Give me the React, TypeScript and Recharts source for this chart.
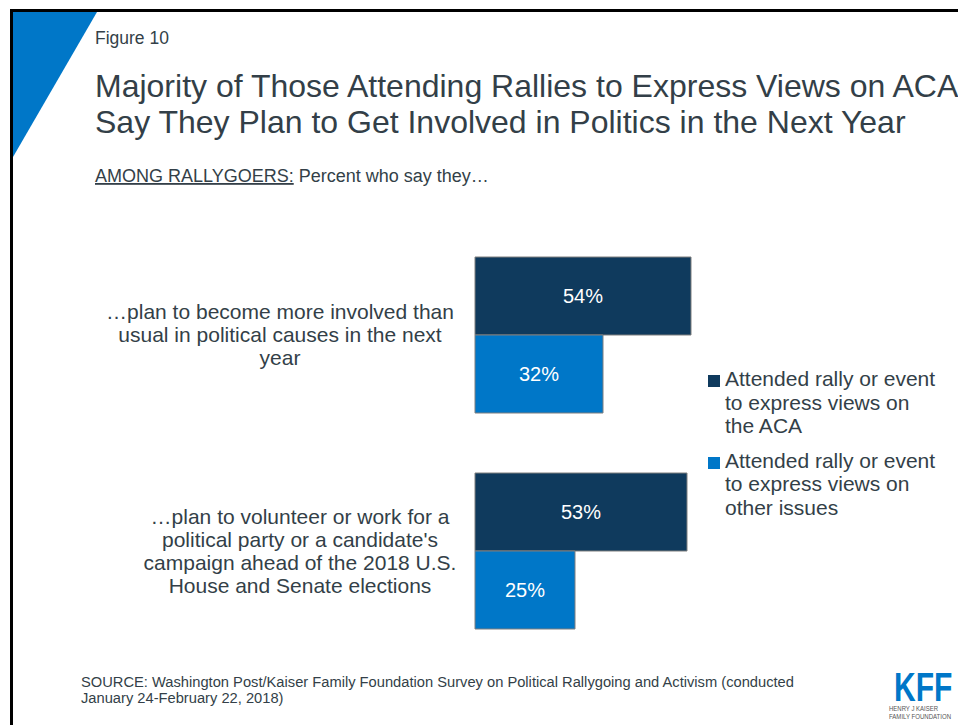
import { Bar, BarChart, LabelList, Legend, XAxis, YAxis } from 'recharts'

const categories = ['More involved in political causes', 'Volunteer for party or campaign']
const categoryLines = [
  ['…plan to become more involved than', 'usual in political causes in the next', 'year'],
  ['…plan to volunteer or work for a', "political party or a candidate's", 'campaign ahead of the 2018 U.S.', 'House and Senate elections'],
]
const acaValues = [54, 53]
const otherIssuesValues = [32, 25]
const seriesNames = [
  'Attended rally or event to express views on the ACA',
  'Attended rally or event to express views on other issues',
]
const legendLines: Record<string, string[]> = {
  aca: ['Attended rally or event', 'to express views on', 'the ACA'],
  other: ['Attended rally or event', 'to express views on', 'other issues'],
}

const FONT = '"Liberation Sans", Arial, sans-serif'
const TEXT = '#333f48'
const DARK = '#0f3a5d'
const BLUE = '#0077c8'

const data = categories.map((category, i) => ({
  category,
  aca: acaValues[i],
  other: otherIssuesValues[i],
}))

// label centres sit a little differently per category in the original slide
const labelCentreOffset = [195, 175]

function CategoryTick(props: any) {
  const { x, y, payload, index } = props
  const lines = categoryLines[index] ?? [payload.value]
  const cx = x - (labelCentreOffset[index] ?? 185)
  return (
    <g>
      {lines.map((line: string, i: number) => (
        <text
          key={i}
          x={cx}
          y={y + 7 + (i - (lines.length - 1) / 2) * 23}
          textAnchor="middle"
          fill={TEXT}
          fontSize={21}
          fontFamily={FONT}
        >
          {line}
        </text>
      ))}
    </g>
  )
}

function LegendContent(props: any) {
  const { payload = [] } = props
  return (
    <div style={{ fontFamily: FONT, fontSize: 21, lineHeight: '23.5px', color: TEXT }}>
      {payload.map((entry: any, i: number) => (
        <div key={i} style={{ position: 'relative', paddingLeft: 17, marginBottom: 11 }}>
          <span
            style={{
              position: 'absolute',
              left: 0,
              top: 8,
              width: 12,
              height: 12,
              background: entry.color,
            }}
          />
          {(legendLines[entry.dataKey] ?? [entry.value]).map((line: string, j: number) => (
            <div key={j}>{line}</div>
          ))}
        </div>
      ))}
    </div>
  )
}

function App() {
  return (
    <div style={{ position: 'absolute', left: 0, top: 0, width: 958, height: 725, background: '#fff', overflow: 'hidden' }}>
      <svg width={958} height={725} style={{ position: 'absolute', left: 0, top: 0 }}>
        <path d="M 958 10.5 L 11.5 10.5 L 11.5 725" fill="none" stroke="#000" strokeWidth={3} />
        <polygon points="13,12 97,12 13,157" fill={BLUE} />
        <text x={95} y={44} fontSize={17.5} fill={TEXT} fontFamily={FONT}>
          Figure 10
        </text>
        <text x={95} y={97} fontSize={32} fill={TEXT} fontFamily={FONT}>
          Majority of Those Attending Rallies to Express Views on ACA
        </text>
        <text x={95} y={133} fontSize={32} fill={TEXT} fontFamily={FONT}>
          Say They Plan to Get Involved in Politics in the Next Year
        </text>
        <text x={95} y={182} fontSize={18} fill={TEXT} fontFamily={FONT}>
          <tspan textDecoration="underline">AMONG RALLYGOERS:</tspan>
          <tspan> Percent who say they…</tspan>
        </text>
        <text x={81} y={687} fontSize={14.7} fill={TEXT} fontFamily={FONT}>
          SOURCE: Washington Post/Kaiser Family Foundation Survey on Political Rallygoing and Activism (conducted
        </text>
        <text x={81} y={703} fontSize={14.7} fill={TEXT} fontFamily={FONT}>
          January 24-February 22, 2018)
        </text>
        <g transform="translate(894 701) scale(0.75 1)">
          <text x={0} y={0} fontSize={40} fontWeight={700} fill={BLUE} fontFamily={FONT}>
            KFF
          </text>
        </g>
        <text x={889} y={711} fontSize={6.5} fill="#555" fontFamily={FONT} textLength={49} lengthAdjust="spacingAndGlyphs">
          HENRY J KAISER
        </text>
        <text x={889} y={719} fontSize={6.5} fill="#555" fontFamily={FONT} textLength={62} lengthAdjust="spacingAndGlyphs">
          FAMILY FOUNDATION
        </text>
      </svg>

      <div style={{ position: 'absolute', left: 0, top: 0 }}>
        <BarChart
          width={958}
          height={725}
          data={data}
          layout="vertical"
          margin={{ top: 227, right: 83, bottom: 66, left: 95 }}
          barSize={78}
          barGap={0}
        >
          <XAxis type="number" domain={[0, 100]} hide />
          <YAxis
            type="category"
            dataKey="category"
            width={380}
            axisLine={false}
            tickLine={false}
            tickSize={0}
            tickMargin={0}
            tick={<CategoryTick />}
            interval={0}
          />
          <Legend
            layout="vertical"
            align="center"
            verticalAlign="middle"
            itemSorter="dataKey"
            content={<LegendContent />}
            wrapperStyle={{ left: 708, top: 367, width: 245 }}
          />
          <Bar dataKey="aca" name={seriesNames[0]} fill={DARK} stroke="#7f7f7f" strokeWidth={1} isAnimationActive={false}>
            <LabelList dataKey="aca" position="center" fill="#fff" fontSize={20} fontFamily={FONT} formatter={(v: any) => `${v}%`} />
          </Bar>
          <Bar dataKey="other" name={seriesNames[1]} fill={BLUE} stroke="#7f7f7f" strokeWidth={1} isAnimationActive={false}>
            <LabelList dataKey="other" position="center" fill="#fff" fontSize={20} fontFamily={FONT} formatter={(v: any) => `${v}%`} />
          </Bar>
        </BarChart>
      </div>
    </div>
  )
}

export default App
